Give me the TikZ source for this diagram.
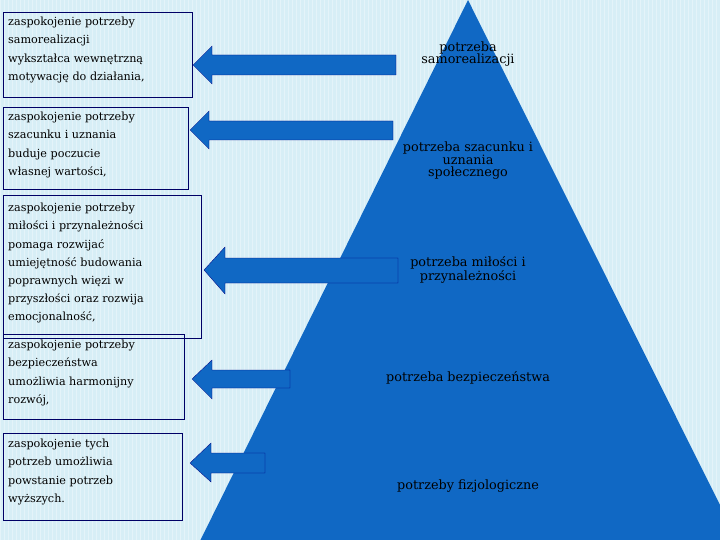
\documentclass[tikz,border=0pt]{standalone}
\usepackage{fontspec}
\setmainfont{DejaVu Serif}
\begin{document}
\begin{tikzpicture}[x=1pt,y=-1pt,
  box/.style={draw=blue!40!black,line width=0.6pt,inner sep=0pt},
  txt/.style={anchor=north west,align=left,font=\fontsize{11.2}{18.2}\selectfont,inner sep=0pt},
  lab/.style={align=center,font=\fontsize{12.8}{12.5}\selectfont,inner sep=0pt},
  arr/.style={fill=myblue,draw=blue!50!black,line width=0.3pt}]
\definecolor{bg}{HTML}{D7EEF6}
\definecolor{myblue}{HTML}{1068C4}
\useasboundingbox (0,0) rectangle (720,540);
\fill[bg] (0,0) rectangle (720,540);
\draw[white,line width=0.3pt,opacity=0.35,step=4] (0,0) grid (720,540);
\fill[myblue] (468,0) coordinate (apex) -- (198,545) -- (740,545) -- cycle;
% boxes
\draw[box] (3,12) rectangle (192,97);
\draw[box] (3,107) rectangle (188,189);
\draw[box] (3,195) rectangle (201,338);
\draw[box] (3,334) rectangle (184,419);
\draw[box] (3,433) rectangle (182,520);
\node[txt] (t1) at (8,17) {zaspokojenie potrzeby\\samorealizacji\\wykształca wewnętrzną\\motywację do działania,};
\node[txt] (t2) at (8,112) {zaspokojenie potrzeby\\szacunku i uznania\\buduje poczucie\\własnej wartości,};
\node[txt] (t3) at (8,203) {zaspokojenie potrzeby\\miłości i przynależności\\pomaga rozwijać\\umiejętność budowania\\poprawnych  więzi w\\przyszłości oraz rozwija\\emocjonalność,};
\node[txt] (t4) at (8,340) {zaspokojenie potrzeby\\bezpieczeństwa\\umożliwia harmonijny\\rozwój,};
\node[txt] (t5) at (8,439) {zaspokojenie tych\\potrzeb umożliwia\\powstanie potrzeb\\wyższych.};
% arrows
\draw[arr] (193,65) -- (212,46) -- (212,55) -- (396,55) -- (396,75) -- (212,75) -- (212,84) -- cycle;
\draw[arr] (190,130) -- (209,111) -- (209,121) -- (393,121) -- (393,140) -- (209,140) -- (209,149) -- cycle;
\draw[arr] (204,270) -- (225,247) -- (225,258) -- (398,258) -- (398,283) -- (225,283) -- (225,294) -- cycle;
\draw[arr] (192,379) -- (212,360) -- (212,370) -- (290,370) -- (290,388) -- (212,388) -- (212,399) -- cycle;
\draw[arr] (190,463) -- (211,443) -- (211,453) -- (265,453) -- (265,473) -- (211,473) -- (211,482) -- cycle;
% labels
\node[lab] (l1) at (468,54) {potrzeba\\samorealizacji};
\node[lab] (l2) at (468,161) {potrzeba szacunku i\\uznania\\społecznego};
\node[lab] (l3) at (468,270) {potrzeba  miłości i\\przynależności};
\node[lab] (l4) at (468,378) {potrzeba bezpieczeństwa};
\node[lab] (l5) at (468,486) {potrzeby fizjologiczne};
\end{tikzpicture}
\end{document}
